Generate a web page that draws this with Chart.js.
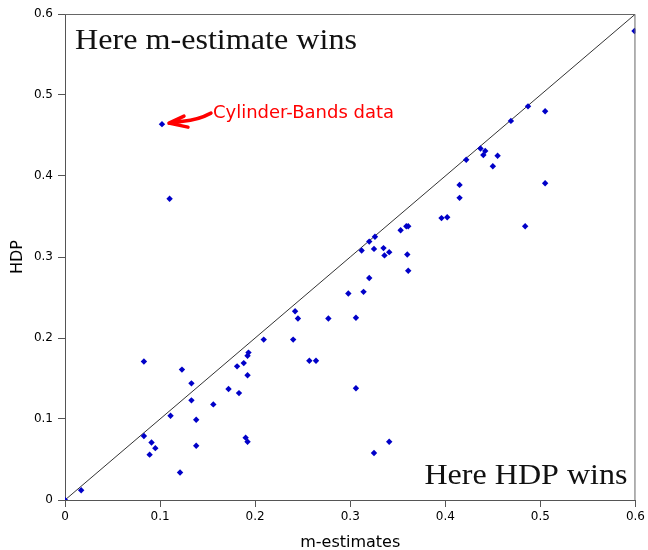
<!DOCTYPE html>
<html>
<head>
<meta charset="utf-8">
<script src="https://cdn.jsdelivr.net/npm/chart.js@4/dist/chart.umd.min.js"></script>
<style>
  html, body { margin: 0; padding: 0; background: #fff; }
</style>
</head>
<body>
<canvas id="chart" width="648" height="550"></canvas>
<script>
// error rates per data set: m-estimates (x) against HDP (y)
var mEstimates = [0, 0.017, 0.102, 0.110, 0.083, 0.083, 0.091, 0.095, 0.089, 0.111,
                  0.121, 0.123, 0.133, 0.133, 0.138, 0.138, 0.156, 0.172, 0.181, 0.183,
                  0.188, 0.192, 0.193, 0.192, 0.190, 0.192, 0.209, 0.240, 0.242, 0.245,
                  0.257, 0.264, 0.277, 0.298, 0.306, 0.306, 0.312, 0.314, 0.320, 0.320,
                  0.325, 0.325, 0.326, 0.335, 0.336, 0.341, 0.341, 0.353, 0.359, 0.361,
                  0.360, 0.361, 0.396, 0.402, 0.415, 0.415, 0.422, 0.437, 0.442, 0.440,
                  0.450, 0.455, 0.469, 0.484, 0.487, 0.505, 0.505, 0.599];
var hdp = [0, 0.012, 0.464, 0.372, 0.171, 0.079, 0.071, 0.064, 0.056, 0.104,
           0.034, 0.161, 0.144, 0.123, 0.099, 0.067, 0.118, 0.137, 0.165, 0.132,
           0.169, 0.178, 0.182, 0.154, 0.077, 0.072, 0.198, 0.198, 0.233, 0.224,
           0.172, 0.172, 0.224, 0.255, 0.225, 0.138, 0.308, 0.257, 0.319, 0.274,
           0.310, 0.058, 0.325, 0.311, 0.302, 0.306, 0.072, 0.333, 0.338, 0.338,
           0.303, 0.283, 0.348, 0.349, 0.389, 0.373, 0.420, 0.434, 0.431, 0.426,
           0.412, 0.425, 0.468, 0.338, 0.486, 0.480, 0.391, 0.579];
var xTicks = [0, 0.1, 0.2, 0.3, 0.4, 0.5, 0.6];
var yTicks = [0, 0.1, 0.2, 0.3, 0.4, 0.5, 0.6];
var diagonal = [0, 0.6];
var cylinderBands = {x: 0.102, y: 0.464};

var points = mEstimates.map(function(m, i){ return {x: m, y: hdp[i]}; });
var diagLine = diagonal.map(function(v){ return {x: v, y: v}; });

// frame, corner captions and the hand drawn arrow
var extras = {
    id: 'extras',
    afterDraw: function(chart){
        var ctx = chart.ctx, a = chart.chartArea;
        ctx.save();
        ctx.strokeStyle = '#666';
        ctx.lineWidth = 1;
        ctx.beginPath();
        ctx.moveTo(a.left, a.top + 0.5);
        ctx.lineTo(a.right - 0.5, a.top + 0.5);
        ctx.lineTo(a.right - 0.5, a.bottom);
        ctx.stroke();

        function serif(txt, x, y, w){
            ctx.save();
            ctx.font = '29px "Liberation Serif"';
            ctx.fillStyle = '#111';
            ctx.textBaseline = 'alphabetic';
            var sx = w / ctx.measureText(txt).width;
            ctx.translate(x, y);
            ctx.scale(sx, 1);
            ctx.fillText(txt, 0, 0);
            ctx.restore();
        }
        serif('Here m-estimate wins', a.left + 10, a.top + 35, 282);
        serif('Here HDP wins', a.right - 211, a.bottom - 16, 203);

        var px = chart.scales.x.getPixelForValue(cylinderBands.x);
        var py = chart.scales.y.getPixelForValue(cylinderBands.y);
        ctx.strokeStyle = '#ff0000';
        ctx.lineWidth = 3.5;
        ctx.lineCap = 'round';
        ctx.lineJoin = 'round';
        ctx.beginPath();
        ctx.moveTo(px + 49, py - 11);
        ctx.quadraticCurveTo(px + 36, py - 4, px + 21, py - 3);
        ctx.lineTo(px + 7, py - 1);
        ctx.moveTo(px + 22, py - 8);
        ctx.lineTo(px + 7, py - 1);
        ctx.lineTo(px + 26, py + 3);
        ctx.stroke();

        ctx.font = '18px "DejaVu Sans"';
        ctx.fillStyle = '#ff0000';
        ctx.fillText('Cylinder-Bands data', px + 51, py - 6);
        ctx.restore();
    }
};

var ctx = document.getElementById('chart').getContext('2d');
var chart = new Chart(ctx, {
    type: 'scatter',
    data: {
        datasets: [{
            type: 'line',
            data: diagLine,
            borderColor: '#333',
            borderWidth: 1,
            pointRadius: 0,
            order: 2
        }, {
            data: points,
            pointStyle: 'rectRot',
            pointRadius: 3.2,
            backgroundColor: '#0000c8',
            borderWidth: 0,
            order: 1
        }]
    },
    plugins: [extras],
    options: {
        responsive: false,
        animation: false,
        layout: { padding: { top: 14, right: 12, left: 0, bottom: 0 } },
        plugins: { legend: { display: false }, tooltip: { enabled: false } },
        scales: {
            x: {
                type: 'linear', min: 0, max: 0.6,
                afterBuildTicks: function(s){ s.ticks = xTicks.map(function(v){ return {value: v}; }); },
                afterFit: function(s){ s.height = 50; },
                ticks: {
                    font: { family: 'DejaVu Sans', size: 12 }, color: '#000', padding: 3,
                    callback: function(v){ return String(+v.toFixed(1)); }
                },
                grid: { drawOnChartArea: false, tickLength: 7, color: '#555' },
                border: { color: '#555' },
                title: { display: true, text: 'm-estimates', color: '#000',
                         font: { family: 'DejaVu Sans', size: 16 }, padding: { top: 0, bottom: -2 } }
            },
            y: {
                type: 'linear', min: 0, max: 0.6,
                afterBuildTicks: function(s){ s.ticks = yTicks.map(function(v){ return {value: v}; }); },
                afterFit: function(s){ s.width = 65; },
                ticks: {
                    font: { family: 'DejaVu Sans', size: 12 }, color: '#000', padding: 5,
                    callback: function(v){ return String(+v.toFixed(1)); }
                },
                grid: { drawOnChartArea: false, tickLength: 7, color: '#555' },
                border: { color: '#555' },
                title: { display: true, text: 'HDP', color: '#000',
                         font: { family: 'DejaVu Sans', size: 16 }, padding: { top: 8, bottom: 0 } }
            }
        }
    }
});
</script>
</body>
</html>
